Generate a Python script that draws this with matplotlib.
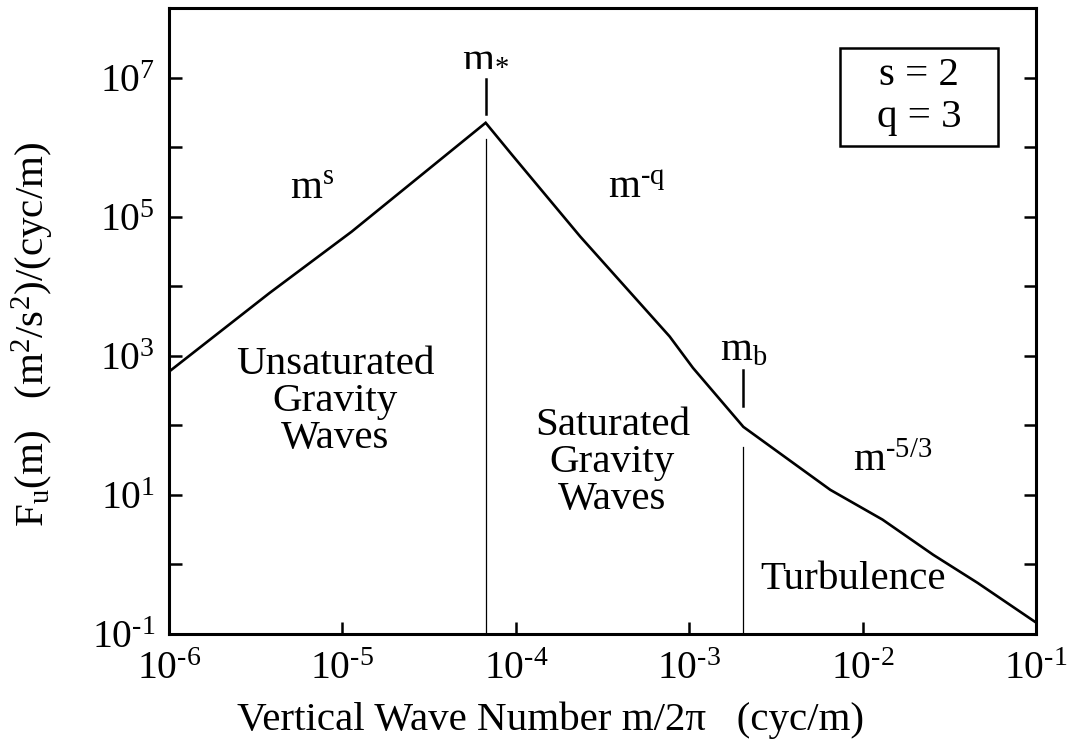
#!/usr/bin/env python3

import matplotlib
matplotlib.use('Agg')
import matplotlib.pyplot as plt
from matplotlib.patches import Rectangle
from matplotlib.ticker import FixedLocator, FixedFormatter

plt.rcParams['font.family'] = ['Liberation Serif', 'DejaVu Serif']
plt.rcParams['mathtext.fontset'] = 'custom'
plt.rcParams['mathtext.rm'] = 'Liberation Serif'
plt.rcParams['mathtext.it'] = 'Liberation Serif:italic'

# spectrum (vertical wave number, cyc/m -> F_u)
m = [1.0e-6, 3.8e-6, 1.13e-5, 6.7e-5, 9.5e-5, 2.35e-4, 7.7e-4, 1.05e-3,
     2.05e-3, 6.5e-3, 1.3e-2, 2.55e-2, 4.6e-2, 1.0e-1]
F = [5.9e2, 8.0e3, 6.1e4, 2.25e6, 7.8e5, 5.2e4, 1.9e3, 6.7e2,
     9.5e1, 1.18e1, 4.4, 1.37, 0.54, 0.145]

# characteristic wave numbers
m_star = 6.7e-5
m_b = 2.05e-3

HY = '\u2010'  # short hyphen like the original typesetting
x_ticks = [1e-6, 1e-5, 1e-4, 1e-3, 1e-2, 1e-1]
x_labels = ['$10^{' + HY + str(k) + '}$' for k in [6, 5, 4, 3, 2, 1]]
y_ticks = [1e-1, 1e0, 1e1, 1e2, 1e3, 1e4, 1e5, 1e6, 1e7]
y_labels = ['$10^{' + HY + '1}$', '', '$10^{1}$', '', '$10^{3}$', '', '$10^{5}$', '', '$10^{7}$']

fs = 29.5
fs_tick = 28.5

fig = plt.figure(figsize=(10.76, 7.51), dpi=100)
ax = fig.add_axes([0.157, 0.156, 0.806, 0.833])

ax.plot(m, F, color='black', lw=1.9, solid_joinstyle='miter')

# vertical markers with the short tick above the break
ax.plot([m_star, m_star], [1e-1, 1.3e6], color='black', lw=0.9)
ax.plot([m_star, m_star], [3.0e6, 9.5e6], color='black', lw=1.8)
ax.plot([m_b, m_b], [1e-1, 4.9e1], color='black', lw=0.9)
ax.plot([m_b, m_b], [1.9e2, 6.3e2], color='black', lw=1.8)

ax.set_xscale('log')
ax.set_yscale('log')
ax.set_xlim(1e-6, 1e-1)
ax.set_ylim(1e-1, 1e8)

ax.xaxis.set_major_locator(FixedLocator(x_ticks))
ax.xaxis.set_major_formatter(FixedFormatter(x_labels))
ax.yaxis.set_major_locator(FixedLocator(y_ticks))
ax.yaxis.set_major_formatter(FixedFormatter(y_labels))
ax.minorticks_off()
ax.tick_params(direction='in', length=9, width=1.8, labelsize=fs_tick)
ax.tick_params(axis='x', pad=12)
ax.tick_params(axis='y', right=True, pad=10)
for sp in ax.spines.values():
    sp.set_linewidth(2.2)

# annotations
ax.text(m_star, 2.0e7, r'$\mathrm{m}_{*}$', fontsize=fs, ha='center', va='center')
ax.text(5.0e-6, 2.5e5, r'$\mathrm{m}^{\mathrm{s}}$', fontsize=fs, ha='left', va='center')
ax.text(3.4e-4, 2.5e5, '$\\mathrm{m}^{\\mathrm{' + HY + 'q}}$', fontsize=fs, ha='left', va='center')
ax.text(m_b, 1.2e3, r'$\mathrm{m}_{\mathrm{b}}$', fontsize=fs, ha='center', va='center')
ax.text(8.8e-3, 3.0e1, '$\\mathrm{m}^{\\mathrm{' + HY + '5/3}}$', fontsize=fs, ha='left', va='center')

ax.text(9.1e-6, 2.2e2, 'Unsaturated\nGravity\nWaves', fontsize=fs, ha='center',
        va='center', linespacing=1.0)
ax.text(3.6e-4, 2.9e1, 'Saturated\nGravity\nWaves', fontsize=fs, ha='center',
        va='center', linespacing=1.0)
ax.text(8.8e-3, 0.6, 'Turbulence', fontsize=fs, ha='center', va='center')

# parameter box
ax.add_patch(Rectangle((0.774, 0.780), 0.182, 0.156, transform=ax.transAxes,
                       fc='white', ec='black', lw=1.8, zorder=3))
ax.text(0.865, 0.892, 's = 2', transform=ax.transAxes, fontsize=fs,
        ha='center', va='center', zorder=4)
ax.text(0.865, 0.825, 'q = 3', transform=ax.transAxes, fontsize=fs,
        ha='center', va='center', zorder=4)

ax.set_xlabel('Vertical Wave Number m/2π   (cyc/m)', fontsize=fs)
ax.xaxis.set_label_coords(0.44, -0.108)
ax.set_ylabel(r'$\mathrm{F_u(m)}$   $\mathrm{(m^2/s^2)/(cyc/m)}$', fontsize=fs)
ax.yaxis.set_label_coords(-0.13, 0.478)

fig.savefig('out.png', dpi=100)
